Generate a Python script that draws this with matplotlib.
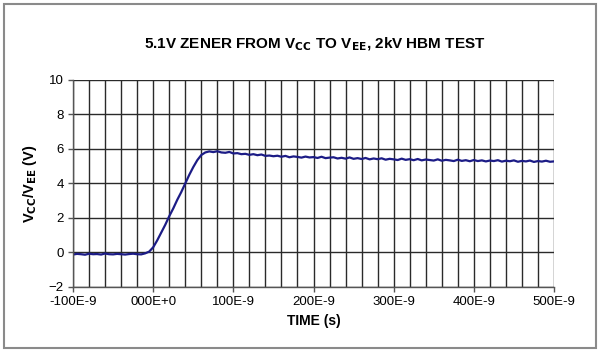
import matplotlib.pyplot as plt
from matplotlib.patches import Rectangle
from matplotlib.ticker import MultipleLocator, FixedFormatter, FixedLocator
import numpy as np

plt.rcParams['font.family'] = ['Liberation Sans', 'DejaVu Sans']

# time in ns, voltage in V
time_ns = np.arange(-100, 505, 5)
volts = [
    -0.12, -0.08, -0.10, -0.13, -0.07, -0.10, -0.09, -0.12, -0.06, -0.10,
    -0.11, -0.08, -0.10, -0.12, -0.09, -0.07, -0.10, -0.11, -0.05, 0.05,
    0.30, 0.70, 1.15, 1.60, 2.10, 2.55, 3.05, 3.50, 4.00, 4.50,
    4.95, 5.35, 5.65, 5.80, 5.86, 5.82, 5.87, 5.80, 5.78, 5.83,
    5.74, 5.76, 5.70, 5.72, 5.66, 5.70, 5.64, 5.68, 5.60, 5.62,
    5.58, 5.61, 5.55, 5.60, 5.52, 5.57, 5.54, 5.50, 5.56, 5.51,
    5.53, 5.48, 5.55, 5.47, 5.50, 5.52, 5.45, 5.49, 5.44, 5.51,
    5.43, 5.47, 5.42, 5.48, 5.40, 5.45, 5.41, 5.46, 5.38, 5.43,
    5.40, 5.36, 5.44, 5.37, 5.41, 5.35, 5.42, 5.34, 5.39, 5.36,
    5.33, 5.40, 5.32, 5.37, 5.34, 5.30, 5.38, 5.31, 5.35, 5.29,
    5.36, 5.30, 5.34, 5.28, 5.33, 5.30, 5.35, 5.27, 5.32, 5.29,
    5.34, 5.26, 5.31, 5.28, 5.33, 5.25, 5.30, 5.27, 5.32, 5.26,
    5.28,
]
x_ticks = [-100, 0, 100, 200, 300, 400, 500]
x_labels = ['-100E-9', '000E+0', '100E-9', '200E-9', '300E-9', '400E-9', '500E-9']

fig = plt.figure(figsize=(6.0, 3.53), dpi=100)
fig.patches.append(Rectangle((0.006, 0.014), 0.988, 0.975, transform=fig.transFigure,
                             fill=False, edgecolor='#8a8a8a', linewidth=1.5))

ax = fig.add_axes([0.1217, 0.187, 0.8016, 0.5864])
ax.plot(time_ns, volts, color='#1c1c86', linewidth=1.6)

ax.set_xlim(-100, 500)
ax.set_ylim(-2, 10)
ax.xaxis.set_major_locator(FixedLocator(x_ticks))
ax.xaxis.set_major_formatter(FixedFormatter(x_labels))
ax.xaxis.set_minor_locator(MultipleLocator(20))
ax.yaxis.set_major_locator(MultipleLocator(2))
ax.grid(True, which='both', axis='x', color='#2a2a2a', linewidth=1.0)
ax.grid(True, which='major', axis='y', color='#2a2a2a', linewidth=1.0)
ax.set_axisbelow(True)
ax.tick_params(which='major', length=3.6, width=1, color='#555555',
               labelsize=9.5, pad=3)
ax.tick_params(which='minor', length=0)
for side in ['top', 'right']:
    ax.spines[side].set_visible(False)
for side in ['left', 'bottom']:
    ax.spines[side].set_color('#555555')
    ax.spines[side].set_linewidth(1.0)

ax.set_xlabel('TIME (s)', fontsize=10, fontweight='bold', labelpad=4)
ax.set_ylabel('V$_{\\mathbf{CC}}$/V$_{\\mathbf{EE}}$ (V)', fontsize=10.5,
              fontweight='bold', labelpad=7)
fig.text(0.524, 0.875, '5.1V ZENER FROM V$_{\\mathbf{CC}}$ TO V$_{\\mathbf{EE}}$, 2kV HBM TEST',
         ha='center', va='center', fontsize=11, fontweight='bold')

fig.savefig('out.png', dpi=100)
